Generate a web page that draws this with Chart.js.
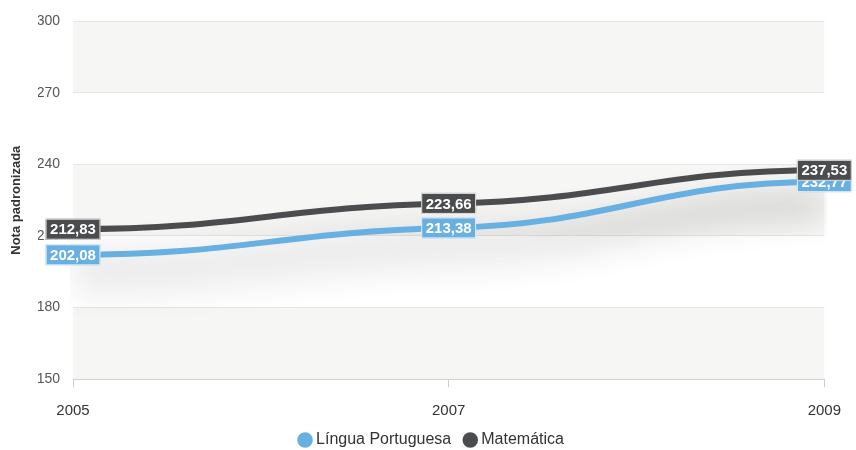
<!DOCTYPE html>
<html>
<head>
<meta charset="utf-8">
<script src="https://cdn.jsdelivr.net/npm/chart.js@4/dist/chart.umd.min.js"></script>
<style>
  html, body { margin: 0; padding: 0; background: #ffffff; }
  #wrap { width: 856px; height: 450px; position: relative; }
</style>
</head>
<body>
<div id="wrap"><canvas id="chart"></canvas></div>
<script>
(function () {
  'use strict';

  // -- Data ------------------------------------------------------------------
  const YEARS = ['2005', '2007', '2009'];
  const LINGUA = [202.08, 213.38, 232.77];
  const MATEMATICA = [212.83, 223.66, 237.53];
  const Y_TICKS = [150, 180, 210, 240, 270, 300];

  const BLUE = '#68afe2';
  const DARK = '#4b4c4e';
  const FONT = '"Liberation Sans", Arial, sans-serif';

  function fmtBR(v) { return v.toFixed(2).replace('.', ','); }

  // Alternating horizontal bands behind the plot
  const bandsPlugin = {
    id: 'bands',
    beforeDraw(chart) {
      const { ctx, chartArea: a, scales: { y } } = chart;
      ctx.save();
      for (let i = 0; i < Y_TICKS.length - 1; i += 2) {
        const top = y.getPixelForValue(Y_TICKS[Y_TICKS.length - 1 - i]);
        const bot = y.getPixelForValue(Y_TICKS[Y_TICKS.length - 2 - i]);
        ctx.fillStyle = '#f6f6f5';
        ctx.fillRect(a.left, top, a.right - a.left, bot - top);
      }
      ctx.restore();
    }
  };

  // Flat-tangent control points (S-shaped segments) + soft drop shadow
  const splinePlugin = {
    id: 'splineShadow',
    beforeDatasetDraw(chart, args) {
      const meta = args.meta;
      const line = meta.dataset;
      const pts = meta.data;
      if (line && line.updateControlPoints) line.updateControlPoints(chart.chartArea, 'x');
      const k = 0.45;
      for (let i = 0; i < pts.length; i++) {
        const p = pts[i];
        const dl = i > 0 ? (p.x - pts[i - 1].x) * k : 0;
        const dr = i < pts.length - 1 ? (pts[i + 1].x - p.x) * k : 0;
        let slope = 0;
        if (i > 0 && i < pts.length - 1) {
          slope = 0.25 * (pts[i + 1].y - pts[i - 1].y) / (pts[i + 1].x - pts[i - 1].x);
        }
        p.cp1x = p.x - dl; p.cp1y = p.y - slope * dl;
        p.cp2x = p.x + dr; p.cp2y = p.y + slope * dr;
      }
      if (line) { line._pointsUpdated = true; delete line._path; }
      const ctx = chart.ctx;
      ctx.save();
      ctx.shadowColor = 'rgba(0,0,0,0.32)';
      ctx.shadowBlur = 32;
      ctx.shadowOffsetY = 30;
    },
    afterDatasetDraw(chart) {
      chart.ctx.restore();
    }
  };

  // Value boxes centred on each point
  const labelPlugin = {
    id: 'valueBoxes',
    afterDatasetsDraw(chart) {
      const ctx = chart.ctx;
      ctx.save();
      ctx.font = 'bold 15px ' + FONT;
      ctx.textAlign = 'center';
      ctx.textBaseline = 'middle';
      chart.data.datasets.forEach(function (ds, di) {
        const meta = chart.getDatasetMeta(di);
        meta.data.forEach(function (pt, i) {
          const txt = fmtBR(ds.data[i]);
          const w = ctx.measureText(txt).width + 9;
          const h = 21;
          let x = pt.x;
          const right = chart.width - 3;
          if (x + w / 2 > right) x = right - w / 2;
          const y = pt.y;
          ctx.fillStyle = ds.borderColor;
          ctx.strokeStyle = 'rgba(255,255,255,0.85)';
          ctx.lineWidth = 1;
          ctx.fillRect(x - w / 2, y - h / 2, w, h);
          ctx.strokeRect(x - w / 2 + 0.5, y - h / 2 + 0.5, w - 1, h - 1);
          ctx.fillStyle = '#ffffff';
          ctx.fillText(txt, x, y + 1);
        });
      });
      ctx.restore();
    }
  };

  const ctx = document.getElementById('chart').getContext('2d');
  new Chart(ctx, {
    type: 'line',
    data: {
      labels: YEARS,
      datasets: [
        {
          label: 'Língua Portuguesa',
          data: LINGUA,
          borderColor: BLUE,
          backgroundColor: BLUE,
          borderWidth: 6,
          pointRadius: 0,
          tension: 0.4
        },
        {
          label: 'Matemática',
          data: MATEMATICA,
          borderColor: DARK,
          backgroundColor: DARK,
          borderWidth: 6,
          pointRadius: 0,
          tension: 0.4
        }
      ]
    },
    options: {
      responsive: true,
      maintainAspectRatio: false,
      animation: false,
      // left padding centres the legend like the original; the y axis is narrowed to match
      layout: { padding: { top: 20, right: 28, left: 38, bottom: -8 } },
      plugins: {
        tooltip: { enabled: false },
        legend: {
          position: 'bottom',
          labels: {
            usePointStyle: true,
            pointStyle: 'circle',
            boxWidth: 6,
            boxHeight: 11,
            padding: 16,
            color: '#333333',
            font: { family: FONT, size: 16 },
            generateLabels(chart) {
              const items = Chart.defaults.plugins.legend.labels.generateLabels(chart);
              items.forEach(function (it) { it.lineWidth = 0; });
              return items;
            }
          }
        }
      },
      scales: {
        x: {
          offset: false,
          grid: {
            display: true,
            drawOnChartArea: false,
            drawTicks: true,
            tickLength: 8,
            color: '#cfcfcf'
          },
          border: { display: true, color: '#d0d0d0', width: 1 },
          ticks: {
            color: '#333333',
            padding: 15,
            maxRotation: 0,
            font: { family: FONT, size: 15 }
          },
          afterFit(scale) { scale.height = 37; }
        },
        y: {
          min: 150,
          max: 300,
          afterBuildTicks(scale) {
            scale.ticks = Y_TICKS.map(function (v) { return { value: v }; });
          },
          grid: { color: '#e6e6e6', drawTicks: false, lineWidth: 1 },
          border: { display: false },
          title: {
            display: true,
            text: 'Nota padronizada',
            color: '#333333',
            padding: { top: -29, bottom: 0 },
            font: { family: FONT, size: 13, weight: 'bold' }
          },
          ticks: {
            color: '#555555',
            padding: 13,
            font: { family: FONT, size: 14 }
          },
          afterFit(scale) { scale.width = 35; }
        }
      }
    },
    plugins: [bandsPlugin, splinePlugin, labelPlugin]
  });
})();
</script>
</body>
</html>
